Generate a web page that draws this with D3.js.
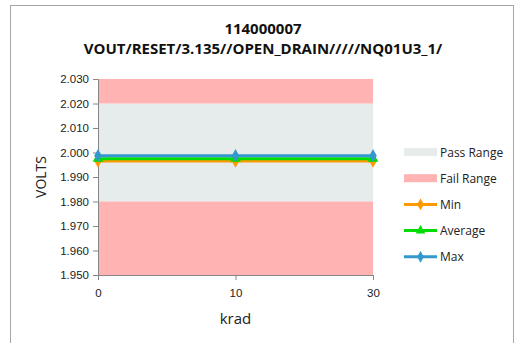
<!DOCTYPE html>
<html>
<head>
<meta charset="utf-8">
<script src="https://cdn.jsdelivr.net/npm/d3@7/dist/d3.min.js"></script>
<style>
  body { margin: 0; background: #fff; }
  svg { font-family: "Open Sans", "Liberation Sans", sans-serif; }
</style>
</head>
<body>
<div id="chart"></div>
<script>
const categories = ["0", "10", "30"];
const minValues = [1.9965, 1.9965, 1.9965];
const avgValues = [1.9975, 1.9975, 1.9975];
const maxValues = [1.9987, 1.9987, 1.9987];
const passRange = [1.980, 2.020];
const failRanges = [[2.020, 2.030], [1.950, 1.980]];
const yTicks = [1.950, 1.960, 1.970, 1.980, 1.990, 2.000, 2.010, 2.020, 2.030];
const titleLines = ["114000007", "VOUT/RESET/3.135//OPEN_DRAIN/////NQ01U3_1/"];

const width = 516, height = 343;
const margin = { left: 98, right: 143, top: 79, bottom: 68 };

const svg = d3.select("#chart").append("svg")
  .attr("width", width)
  .attr("height", height);

// chart border
svg.append("rect")
  .attr("x", 10.5).attr("y", 5.5)
  .attr("width", 503).attr("height", 360)
  .attr("fill", "none")
  .attr("stroke", "#a6a6a6");

const x = d3.scalePoint()
  .domain(categories)
  .range([margin.left, width - margin.right]);

const y = d3.scaleLinear()
  .domain([1.950, 2.030])
  .range([height - margin.bottom, margin.top]);

// bands
svg.append("rect")
  .attr("x", margin.left).attr("width", x.range()[1] - margin.left)
  .attr("y", y(passRange[1])).attr("height", y(passRange[0]) - y(passRange[1]))
  .attr("fill", "#e6ebeb");

svg.selectAll(".fail")
  .data(failRanges)
  .join("rect")
  .attr("class", "fail")
  .attr("x", margin.left).attr("width", x.range()[1] - margin.left)
  .attr("y", d => y(d[1])).attr("height", d => y(d[0]) - y(d[1]))
  .attr("fill", "#ffb3b3");

// axes
const yAxis = svg.append("g")
  .attr("transform", `translate(${margin.left},0)`)
  .call(d3.axisLeft(y).tickValues(yTicks).tickFormat(d3.format(".3f")).tickSize(5));
yAxis.select(".domain").attr("stroke", "#868686");
yAxis.selectAll(".tick line").attr("stroke", "#868686");
yAxis.selectAll("text").attr("font-size", 11.5).attr("fill", "#222").attr("dx", -1);

const xAxis = svg.append("g")
  .attr("transform", `translate(0,${y(1.950)})`)
  .call(d3.axisBottom(x).tickSize(5));
xAxis.select(".domain").attr("stroke", "#868686");
xAxis.selectAll(".tick line").attr("stroke", "#868686");
xAxis.selectAll("text").attr("font-size", 11.5).attr("fill", "#222").attr("dy", "1.25em");

// series
const series = [
  { name: "Min", values: minValues, color: "#ff9900", shape: d3.symbolDiamond },
  { name: "Average", values: avgValues, color: "#00dd00", shape: d3.symbolTriangle },
  { name: "Max", values: maxValues, color: "#3399cc", shape: d3.symbolDiamond }
];

const line = d3.line()
  .x((d, i) => x(categories[i]))
  .y(d => y(d));

series.forEach(s => {
  svg.append("path")
    .datum(s.values)
    .attr("d", line)
    .attr("fill", "none")
    .attr("stroke", s.color)
    .attr("stroke-width", 3);
  svg.selectAll(null)
    .data(s.values)
    .join("path")
    .attr("transform", (d, i) => `translate(${x(categories[i])},${y(d)})`)
    .attr("d", d3.symbol().type(s.shape).size(50))
    .attr("fill", s.color);
});

// titles
svg.append("g").selectAll("text")
  .data(titleLines)
  .join("text")
  .attr("x", 263)
  .attr("y", (d, i) => 34 + i * 20)
  .attr("text-anchor", "middle")
  .attr("font-size", 15)
  .attr("font-weight", "bold")
  .attr("fill", "#111")
  .text(d => d);

svg.append("text")
  .attr("transform", `translate(46,${(y.range()[0] + y.range()[1]) / 2}) rotate(-90)`)
  .attr("text-anchor", "middle")
  .attr("font-size", 14)
  .attr("fill", "#222")
  .text("VOLTS");

svg.append("text")
  .attr("x", x("10"))
  .attr("y", 324)
  .attr("text-anchor", "middle")
  .attr("font-size", 15)
  .attr("fill", "#222")
  .text("krad");

// legend
const legendItems = [
  { name: "Pass Range", type: "box", color: "#e6ebeb" },
  { name: "Fail Range", type: "box", color: "#ffb3b3" },
  ...series.map(s => ({ name: s.name, type: "line", color: s.color, shape: s.shape }))
];

const legend = svg.append("g").attr("transform", "translate(404,0)");
legendItems.forEach((d, i) => {
  const cy = 152 + i * 26.2;
  if (d.type === "box") {
    legend.append("rect")
      .attr("x", 0).attr("y", cy - 4)
      .attr("width", 33).attr("height", 8)
      .attr("fill", d.color);
  } else {
    legend.append("line")
      .attr("x1", 0).attr("x2", 33)
      .attr("y1", cy).attr("y2", cy)
      .attr("stroke", d.color).attr("stroke-width", 3);
    legend.append("path")
      .attr("transform", `translate(16.5,${cy})`)
      .attr("d", d3.symbol().type(d.shape).size(40))
      .attr("fill", d.color);
  }
  legend.append("text")
    .attr("x", 36).attr("y", cy + 4.5)
    .attr("font-size", 12)
    .attr("fill", "#222")
    .text(d.name);
});
</script>
</body>
</html>
